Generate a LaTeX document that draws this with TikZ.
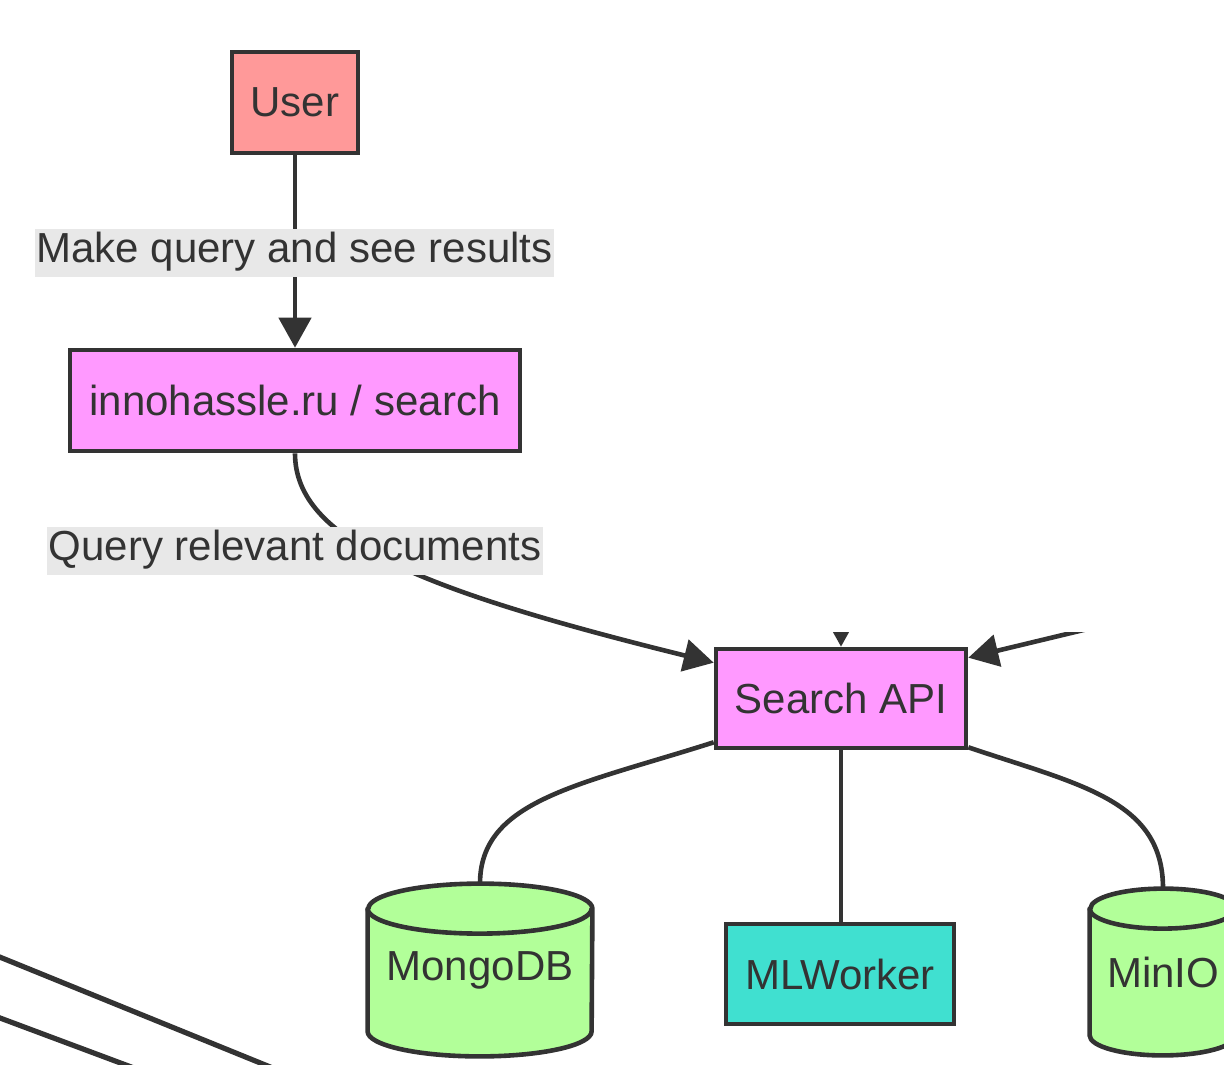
\documentclass[tikz,border=0pt]{standalone}
\usepackage{fontspec}
\setmainfont{Liberation Sans}
\usetikzlibrary{arrows.meta,calc}
\pgfdeclarelayer{background}
\pgfsetlayers{background,main}
\definecolor{ink}{HTML}{333333}
\definecolor{userfill}{HTML}{FF9999}
\definecolor{pinkfill}{HTML}{FF99FF}
\definecolor{mlfill}{HTML}{40E0D0}
\definecolor{dbfill}{HTML}{B2FF99}
\definecolor{lblfill}{HTML}{E8E8E8}
\tikzset{
 base/.style={font=\fontsize{21pt}{25pt}\selectfont, text=ink},
 box/.style={base, draw=ink, line width=2.3pt, rectangle, inner sep=0pt},
 dbnode/.style={base, rectangle, inner sep=0pt},
 lbl/.style={base, fill=lblfill, inner xsep=1pt, inner ysep=0pt, text height=16pt, text depth=6pt, minimum height=24pt},
 link/.style={draw=ink, line width=2.3pt},
 arr/.style={link, -{Triangle[length=15pt,width=16pt]}},
 cyl/.style={draw=ink, line width=2.3pt, fill=dbfill, line join=round},
}
\newcommand{\dbcylinder}[3]{%
 \begin{pgfonlayer}{background}
 \draw[cyl] ([yshift=-#3]#1.north west) -- ([yshift=#3]#1.south west)
   arc[start angle=180,end angle=360,x radius=#2,y radius=#3]
   -- ([yshift=-#3]#1.north east)
   arc[start angle=0,end angle=180,x radius=#2,y radius=#3] -- cycle;
 \draw[cyl, fill=none] ([yshift=-#3]#1.north west) arc[start angle=180,end angle=360,x radius=#2,y radius=#3];
 \end{pgfonlayer}}
\begin{document}
\begin{tikzpicture}[x=0.5pt,y=-0.5pt]
\path[use as bounding box] (0,0) rectangle (1224,1064);
\clip (0,0) rectangle (1224,1064);
% nodes
\node[box, fill=userfill, minimum width=63pt, minimum height=50.5pt] (user) at (295,102.5) {User};
\node[box, fill=pinkfill, minimum width=225pt, minimum height=50.5pt] (inno) at (295,400.5) {innohassle.ru / search};
\node[box, fill=pinkfill, minimum width=125pt, minimum height=49.5pt] (api) at (841,698.5) {Search API};
\node[box, fill=mlfill, minimum width=114pt, minimum height=50pt] (ml) at (840,974) {MLWorker};
\node[dbnode, minimum width=112pt, minimum height=86pt] (mongo) at (480,970) {MongoDB};
\node[dbnode, minimum width=73pt, minimum height=83pt] (minio) at (1163,972) {MinIO};
\dbcylinder{mongo}{56pt}{12.5pt}
\dbcylinder{minio}{36.5pt}{10pt}
% edges
\draw[arr] (user) -- (inno);
\node[lbl] (lbl1) at (294.5,252.5) {Make query and see results};
\draw[arr] (inno.south) .. controls (295,540) and (420,590) .. ([yshift=-8pt]api.north west);
\node[lbl] (lbl2) at (295,550.5) {Query relevant documents};
\draw[link] ([yshift=4pt]api.south west) .. controls (580,785) and (480,800) .. (mongo.north);
\draw[link] (api.south) -- (api.south |- ml.north);
\draw[link] ([yshift=1.5pt]api.south east) .. controls (1080,785) and (1163,800) .. (minio.north);
% incoming edges, cut off
\begin{scope}
\clip (700,632) rectangle (1224,1064);
\coordinate (topin) at (841,560);
\coordinate (rightin) at (1150,614);
\draw[arr] (topin) -- (api.north);
\draw[arr] (rightin) -- ([yshift=-5.5pt]api.north east);
\end{scope}
% partial curves at lower left
\draw[link, line width=2.6pt] (-20,949) -- (285,1073);
\draw[link, line width=2.6pt] (-20,1010.5) -- (150,1074);
\end{tikzpicture}
\end{document}
